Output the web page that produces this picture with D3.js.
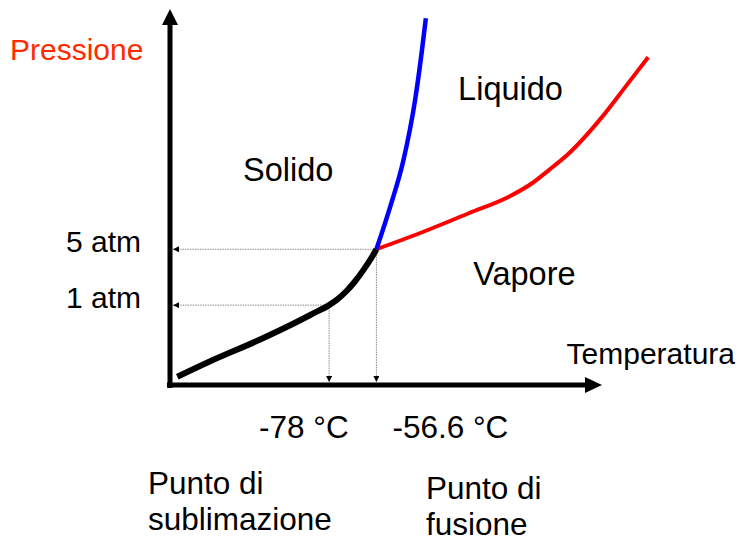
<!DOCTYPE html>
<html>
<head>
<meta charset="utf-8">
<script src="https://cdn.jsdelivr.net/npm/d3@7/dist/d3.min.js"></script>
<style>
  body { margin: 0; background: #fff; }
  text { font-family: "Liberation Sans", Arial, sans-serif; }
</style>
</head>
<body>
<script>
// Size of the drawing
var width = 740,
    height = 542;

// Curves of the CO2 phase diagram, in arbitrary units (temperature, pressure)
var sublimationCurve = [[1.7, 2.2], [9.1, 6.2], [20.7, 12.0], [28.4, 16.2], [33.0, 18.9],
                        [37.0, 21.3], [39.0, 22.9], [41.0, 25.0], [43.0, 27.6], [45.0, 30.7],
                        [47.0, 34.2], [48.0, 36.2]];
var fusionCurve = [[48.0, 36.2], [51.2, 47.5], [54.3, 60.0], [57.0, 76.0], [58.6, 89.3], [59.5, 97.8]];
var vaporCurve = [[48.0, 36.2], [57.9, 40.4], [69.5, 45.8], [78.8, 50.2], [84.2, 53.8],
                  [88.1, 57.3], [92.8, 61.8], [100.5, 71.5], [105.9, 79.5], [111.2, 87.4]];

// Marked points: sublimation point at 1 atm, triple point at 5 atm
var pressureValues = [21.3, 36.2],
    pressureLabels = ["1 atm", "5 atm"];
var tempValues = [37.0, 48.0],
    tempLabels = ["-78 °C", "-56.6 °C"];

// Region names
var regionNames = ["Solido", "Liquido", "Vapore"],
    regionPos = [[17.0, 54.5], [67, 76], [70.5, 26.7]];

// Scales: the two axes meet at (0,0)
var x = d3.scaleLinear().domain([0, 100]).range([170, 600]);
var y = d3.scaleLinear().domain([0, 100]).range([385, 10]);

var svg = d3.select("body")
    .append("svg")
    .attr("width", width)
    .attr("height", height);

var defs = svg.append("defs");
// small black arrowhead for dotted guide lines
defs.append("marker")
    .attr("id", "tip")
    .attr("viewBox", "0 0 10 10")
    .attr("refX", 10).attr("refY", 5)
    .attr("markerWidth", 6).attr("markerHeight", 6)
    .attr("markerUnits", "userSpaceOnUse")
    .attr("orient", "auto")
    .append("path")
    .attr("d", "M0,0L10,5L0,10z")
    .attr("fill", "#000");

// Dotted guide lines from the two points to the axes
svg.selectAll(".hguide")
    .data(pressureValues)
    .enter().append("line")
    .attr("class", "hguide")
    .attr("x1", function(d, i) { return x(tempValues[i]); })
    .attr("x2", x(0) + 3)
    .attr("y1", function(d) { return y(d); })
    .attr("y2", function(d) { return y(d); })
    .attr("stroke", "#888")
    .attr("stroke-width", 1)
    .attr("stroke-dasharray", "1.5,1")
    .attr("marker-end", "url(#tip)");

svg.selectAll(".vguide")
    .data(tempValues)
    .enter().append("line")
    .attr("class", "vguide")
    .attr("x1", function(d) { return x(d); })
    .attr("x2", function(d) { return x(d); })
    .attr("y1", function(d, i) { return y(pressureValues[i]); })
    .attr("y2", y(0) - 3)
    .attr("stroke", "#888")
    .attr("stroke-width", 1)
    .attr("stroke-dasharray", "1.5,1")
    .attr("marker-end", "url(#tip)");

// Axes with arrowheads
svg.append("line")
    .attr("x1", x(0)).attr("y1", y(0) + 3)
    .attr("x2", x(0)).attr("y2", y(100) + 14)
    .attr("stroke", "#000").attr("stroke-width", 5);
svg.append("path")
    .attr("d", "M" + x(0) + "," + (y(100) - 1) + "L" + (x(0) + 8) + "," + (y(100) + 15) +
               "L" + (x(0) - 8) + "," + (y(100) + 15) + "z")
    .attr("fill", "#000");

svg.append("line")
    .attr("x1", x(0) - 3).attr("y1", y(0))
    .attr("x2", x(100) - 14).attr("y2", y(0))
    .attr("stroke", "#000").attr("stroke-width", 5);
svg.append("path")
    .attr("d", "M" + (x(100) + 2) + "," + y(0) + "L" + (x(100) - 15) + "," + (y(0) - 8) +
               "L" + (x(100) - 15) + "," + (y(0) + 8) + "z")
    .attr("fill", "#000");

// The three equilibrium curves
var line = d3.line()
    .x(function(d) { return x(d[0]); })
    .y(function(d) { return y(d[1]); })
    .curve(d3.curveMonotoneX);

svg.append("path").datum(vaporCurve)
    .attr("d", line).attr("fill", "none")
    .attr("stroke", "#ff0000").attr("stroke-width", 4);
svg.append("path").datum(fusionCurve)
    .attr("d", line).attr("fill", "none")
    .attr("stroke", "#0000ff").attr("stroke-width", 4.5);
svg.append("path").datum(sublimationCurve)
    .attr("d", line).attr("fill", "none")
    .attr("stroke", "#000").attr("stroke-width", 6);

// Labels
svg.append("text")
    .attr("x", 10).attr("y", 60)
    .attr("fill", "#ff2a00").attr("font-size", "30px")
    .text("Pressione");

svg.append("text")
    .attr("x", 735).attr("y", 364)
    .attr("text-anchor", "end").attr("font-size", "30px")
    .text("Temperatura");

svg.selectAll(".plabel")
    .data(pressureValues)
    .enter().append("text")
    .attr("class", "plabel")
    .attr("x", 141)
    .attr("y", function(d) { return y(d) + 3; })
    .attr("text-anchor", "end").attr("font-size", "30px")
    .text(function(d, i) { return pressureLabels[i]; });

var tempOffset = [-70, 16];
svg.selectAll(".tlabel")
    .data(tempValues)
    .enter().append("text")
    .attr("class", "tlabel")
    .attr("x", function(d, i) { return x(d) + tempOffset[i]; })
    .attr("y", 438)
    .attr("font-size", "31.5px")
    .text(function(d, i) { return tempLabels[i]; });

svg.selectAll(".region")
    .data(regionNames)
    .enter().append("text")
    .attr("class", "region")
    .attr("x", function(d, i) { return x(regionPos[i][0]); })
    .attr("y", function(d, i) { return y(regionPos[i][1]); })
    .attr("font-size", "32.5px")
    .text(function(d) { return d; });

// Notes under the temperature labels
var notes = [["Punto di", "sublimazione"], ["Punto di", "fusione"]],
    notePos = [[148, 494], [426, 499]];
notes.forEach(function(lines, i) {
    var t = svg.append("text")
        .attr("x", notePos[i][0]).attr("y", notePos[i][1])
        .attr("font-size", "31.5px");
    lines.forEach(function(s, j) {
        t.append("tspan")
            .attr("x", notePos[i][0])
            .attr("dy", j == 0 ? 0 : 36)
            .text(s);
    });
});
</script>
</body>
</html>
